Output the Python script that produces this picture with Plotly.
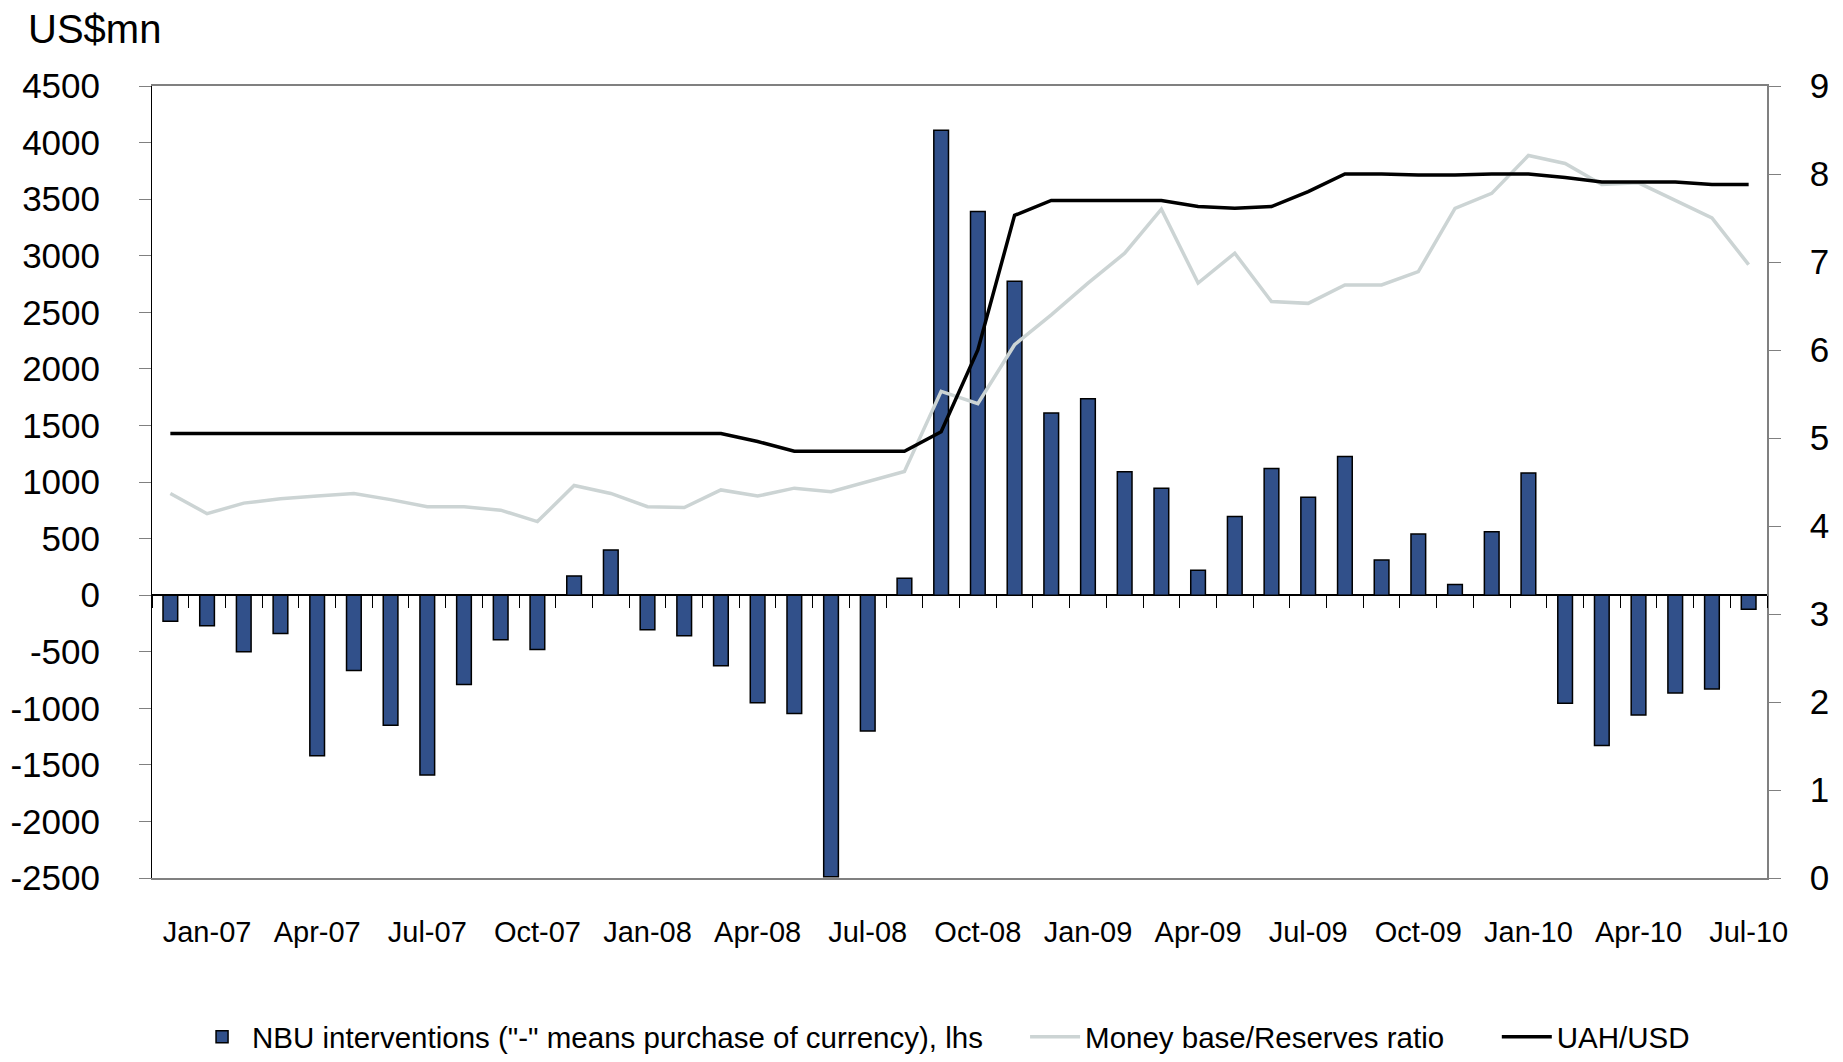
import plotly.graph_objects as go

# monthly categories, Dec-06 .. Jul-10
months = [
    "Dec-06",
    "Jan-07", "Feb-07", "Mar-07", "Apr-07", "May-07", "Jun-07",
    "Jul-07", "Aug-07", "Sep-07", "Oct-07", "Nov-07", "Dec-07",
    "Jan-08", "Feb-08", "Mar-08", "Apr-08", "May-08", "Jun-08",
    "Jul-08", "Aug-08", "Sep-08", "Oct-08", "Nov-08", "Dec-08",
    "Jan-09", "Feb-09", "Mar-09", "Apr-09", "May-09", "Jun-09",
    "Jul-09", "Aug-09", "Sep-09", "Oct-09", "Nov-09", "Dec-09",
    "Jan-10", "Feb-10", "Mar-10", "Apr-10", "May-10", "Jun-10",
    "Jul-10",
]

# NBU interventions, US$mn (lhs)
nbu = [
    -230,
    -270, -500, -340, -1420, -665, -1150,
    -1590, -790, -395, -480, 170, 400,
    -305, -360, -625, -950, -1045, -2490,
    -1200, 150, 4110, 3390, 2775, 1610,
    1735, 1090, 945, 220, 695, 1120,
    865, 1225, 310, 540, 95, 560,
    1080, -955, -1330, -1060, -865, -830,
    -125,
]

# Money base / reserves ratio (rhs)
mb_ratio = [
    4.37,
    4.14, 4.26, 4.31, 4.34, 4.37, 4.30,
    4.22, 4.22, 4.18, 4.05, 4.46, 4.37,
    4.22, 4.21, 4.41, 4.34, 4.43, 4.39,
    4.51, 4.62, 5.53, 5.39, 6.06, 6.40,
    6.76, 7.10, 7.60, 6.76, 7.10, 6.55,
    6.53, 6.74, 6.74, 6.89, 7.61, 7.78,
    8.21, 8.12, 7.88, 7.90, 7.70, 7.50,
    6.97,
]

# UAH/USD exchange rate (rhs)
uah_usd = [
    5.05,
    5.05, 5.05, 5.05, 5.05, 5.05, 5.05,
    5.05, 5.05, 5.05, 5.05, 5.05, 5.05,
    5.05, 5.05, 5.05, 4.96, 4.85, 4.85,
    4.85, 4.85, 5.07, 6.00, 7.53, 7.70,
    7.70, 7.70, 7.70, 7.63, 7.61, 7.63,
    7.80, 8.00, 8.00, 7.99, 7.99, 8.00,
    8.00, 7.96, 7.91, 7.91, 7.91, 7.88,
    7.88,
]

tick_labels = [
    "Jan-07", "Apr-07", "Jul-07", "Oct-07", "Jan-08", "Apr-08", "Jul-08",
    "Oct-08", "Jan-09", "Apr-09", "Jul-09", "Oct-09", "Jan-10", "Apr-10",
    "Jul-10",
]

lhs_ticks = [-2500, -2000, -1500, -1000, -500, 0, 500, 1000, 1500, 2000, 2500, 3000, 3500, 4000, 4500]
rhs_ticks = [0, 1, 2, 3, 4, 5, 6, 7, 8, 9]

FONT = "Liberation Sans, Arial, sans-serif"

fig = go.Figure()

# NBU interventions bars (x / y)
fig.add_trace(
    go.Bar(
        x=months,
        y=nbu,
        name='NBU interventions ("-" means purchase of currency), lhs',
        marker=dict(color="#31508A", line=dict(color="black", width=1.5)),
        width=0.4,
        legend="legend",
        showlegend=True,
    )
)

# money base / reserves ratio (x2 / y2)
fig.add_trace(
    go.Scatter(
        x=months,
        y=mb_ratio,
        name="Money base/Reserves ratio",
        mode="lines",
        line=dict(color="rgb(204,212,212)", width=3.5),
        xaxis="x2",
        yaxis="y2",
        legend="legend2",
        showlegend=True,
    )
)

# UAH/USD
fig.add_trace(
    go.Scatter(
        x=months,
        y=uah_usd,
        name="UAH/USD",
        mode="lines",
        line=dict(color="black", width=3.5),
        xaxis="x2",
        yaxis="y2",
        legend="legend3",
        showlegend=True,
    )
)

n = len(months)
legend_common = dict(
    orientation="h",
    yanchor="middle",
    y=-0.2008,
    xanchor="left",
    itemwidth=50,
    font=dict(size=29.5, color="black"),
    bgcolor="rgba(0,0,0,0)",
)

# page body adds 8px around the figure, so the figure is 16px smaller
fig.update_layout(
    width=1827,
    height=1046,
    margin=dict(l=144, r=68, t=78, b=176, autoexpand=False),
    showlegend=True,
    plot_bgcolor="white",
    paper_bgcolor="white",
    font=dict(family=FONT, color="black"),
    # bar axis: sits on the zero line, small ticks between months
    xaxis=dict(
        type="category",
        categoryorder="array",
        categoryarray=months,
        range=[-0.5, n - 0.5],
        anchor="free",
        position=2500 / 7000,
        tickmode="linear",
        dtick=1,
        tickson="boundaries",
        ticks="outside",
        ticklen=12,
        tickcolor="black",
        tickwidth=1,
        showticklabels=False,
        showline=False,
        showgrid=False,
        automargin=False,
    ),
    # label axis at the bottom, frame lines top and bottom
    xaxis2=dict(
        type="category",
        categoryorder="array",
        categoryarray=months,
        range=[-0.5, n - 0.5],
        overlaying="x",
        anchor="y2",
        side="bottom",
        tickmode="array",
        tickvals=tick_labels,
        ticktext=tick_labels,
        ticks="",
        ticklabelstandoff=27,
        tickfont=dict(size=29),
        showline=True,
        linecolor="#808080",
        linewidth=1.5,
        mirror=True,
        showgrid=False,
        automargin=False,
    ),
    yaxis=dict(
        range=[-2500, 4500],
        tickmode="array",
        tickvals=lhs_ticks,
        ticktext=[str(v) for v in lhs_ticks],
        ticks="outside",
        ticklen=12,
        tickcolor="#808080",
        ticklabelstandoff=32,
        tickfont=dict(size=35),
        showline=True,
        linecolor="black",
        linewidth=1,
        showgrid=False,
        zeroline=True,
        zerolinecolor="black",
        zerolinewidth=1.5,
        automargin=False,
    ),
    yaxis2=dict(
        overlaying="y",
        anchor="x2",
        side="right",
        range=[0, 9],
        tickmode="array",
        tickvals=rhs_ticks,
        ticktext=[str(v) for v in rhs_ticks],
        ticks="outside",
        ticklen=12,
        tickcolor="#808080",
        ticklabelstandoff=22,
        tickfont=dict(size=35),
        showline=True,
        linecolor="#808080",
        linewidth=1.5,
        showgrid=False,
        zeroline=False,
        automargin=False,
    ),
    legend=dict(legend_common, x=0.0248),
    legend2=dict(legend_common, x=0.5406),
    legend3=dict(legend_common, x=0.8327),
    annotations=[
        dict(
            text="US$mn",
            xref="paper",
            yref="paper",
            x=-0.078,
            y=1.0725,
            xanchor="left",
            yanchor="middle",
            showarrow=False,
            font=dict(size=40),
        )
    ],
)

fig.write_html("out.html")
